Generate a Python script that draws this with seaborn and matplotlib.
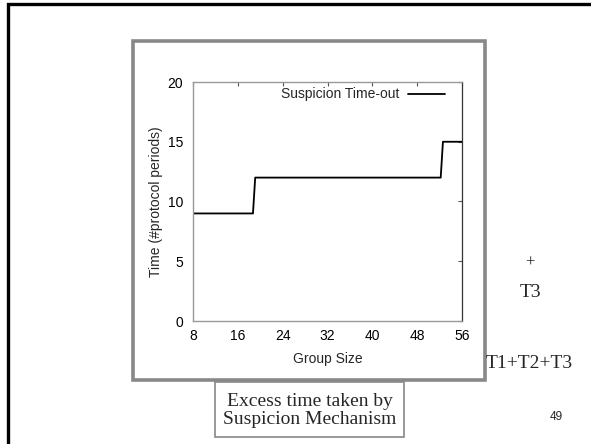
import matplotlib
matplotlib.use("Agg")
import matplotlib.pyplot as plt
import matplotlib.patches as mpatches
import seaborn as sns
import pandas as pd

group_size = [8, 18.7, 19.1, 52.2, 52.6, 56]
timeout = [9, 9, 12, 12, 15, 15]
series_name = "Suspicion Time-out"
x_ticks = [8, 16, 24, 32, 40, 48, 56]
y_ticks = [0, 5, 10, 15, 20]

sns.set_style("white")
plt.rcParams['font.family'] = ['Liberation Sans', 'DejaVu Sans']

W, H = 591, 444
fig = plt.figure(figsize=(W / 100, H / 100), dpi=100)

def fx(px):
    return px / W

def fy(py):
    return 1 - py / H

# slide border
fig.add_artist(mpatches.Rectangle((fx(7.5), fy(600)), fx(700), fy(4.5) - fy(600),
                                  fill=False, edgecolor='black', linewidth=2.4,
                                  transform=fig.transFigure))
# gray frame
fig.add_artist(mpatches.Rectangle((fx(132.5), fy(379.5)), fx(485 - 132.5), fy(41.5) - fy(379.5),
                                  fill=False, edgecolor='#888888', linewidth=2.6,
                                  transform=fig.transFigure))

ax = fig.add_axes([fx(193), fy(321), fx(462 - 193), fy(82) - fy(321)])
df = pd.DataFrame({"Group Size": group_size, "Time": timeout, "series": series_name})
sns.lineplot(data=df, x="Group Size", y="Time", hue="series", palette=["black"],
             linewidth=1.3, ax=ax, estimator=None, sort=False)
ax.set_xlim(8, 56)
ax.set_ylim(0, 20)
ax.set_xticks(x_ticks)
ax.set_yticks(y_ticks)
ax.tick_params(direction='in', length=3, width=0.8, colors='#555555', labelcolor='black',
               labelsize=10, top=True, right=True)
ax.tick_params(axis='y', pad=7)
ax.tick_params(axis='x', pad=6)
for s in ['left', 'bottom', 'top']:
    ax.spines[s].set_color('#999999')
    ax.spines[s].set_linewidth(1.0)
ax.spines['right'].set_color('#333333')
ax.spines['right'].set_linewidth(0.9)
ax.set_xlabel("Group Size", fontsize=10, labelpad=6)
ax.set_ylabel("Time (#protocol periods)", fontsize=10, labelpad=3)
leg = ax.legend(loc='upper right', bbox_to_anchor=(0.968, 1.012), frameon=False,
                markerfirst=False, fontsize=10, handlelength=2.7, borderaxespad=0.2,
                handletextpad=0.6)

# slide texts
serif = ['Liberation Serif', 'DejaVu Serif']
fig.text(fx(530), fy(263), "+", ha='center', va='center', fontsize=12, family=serif)
fig.text(fx(530), fy(292), "T3", ha='center', va='center', fontsize=14, family=serif)
fig.text(fx(529), fy(363), "T1+T2+T3", ha='center', va='center', fontsize=14, family=serif)
fig.text(fx(556.5), fy(417), "49", ha='center', va='center', fontsize=8.5)

fig.add_artist(mpatches.Rectangle((fx(215), fy(437)), fx(404 - 215), fy(382) - fy(437),
                                  fill=False, edgecolor='#888888', linewidth=1.2,
                                  transform=fig.transFigure))
fig.text(fx(309.5), fy(410.5), "Excess time taken by\nSuspicion Mechanism", ha='center',
         va='center', fontsize=14, family=serif, linespacing=1.1)

fig.savefig("out.png", dpi=100)
